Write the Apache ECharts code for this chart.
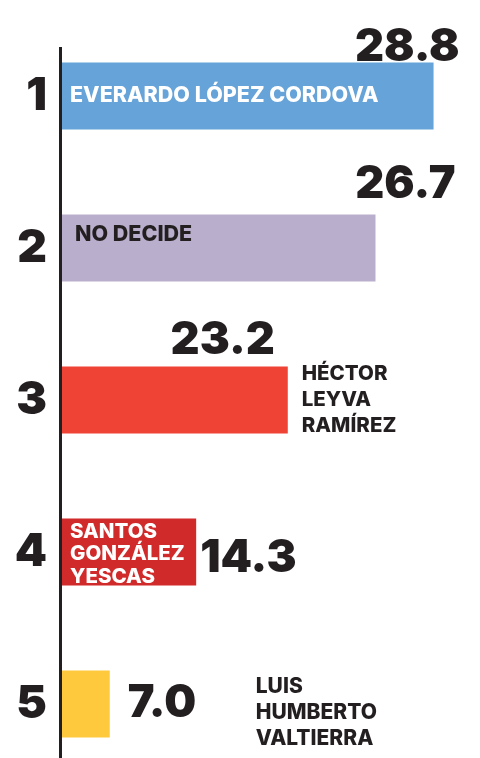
<!DOCTYPE html>
<html>
<head>
<meta charset="utf-8">
<script src="https://cdn.jsdelivr.net/npm/echarts@6/dist/echarts.min.js"></script>
<style>
  html, body { margin: 0; padding: 0; background: #fff; }
  #chart { width: 480px; height: 758px; }
</style>
</head>
<body>
<div id="chart"></div>
<script>
// data
let ranks = ['1', '2', '3', '4', '5'];
let names = ['EVERARDO LÓPEZ CORDOVA', 'NO DECIDE', 'HÉCTOR\nLEYVA\nRAMÍREZ', 'SANTOS\nGONZÁLEZ\nYESCAS', 'LUIS\nHUMBERTO\nVALTIERRA'];
let percents = [28.8, 26.7, 23.2, 14.3, 7.0];
// bar lengths as drawn in the graphic (not to scale with the percents)
let drawnLength = [28.8, 24.3, 17.5, 10.4, 3.7];
let colors = ['#66a3d8', '#b9aecb', '#ef4336', '#d12a2b', '#fec93c'];

const ink = '#231f20';
const font = 'Inter';

// name label of each bar
let nameLabels = [
    { position: [8, '50%'], align: 'left', verticalAlign: 'middle', color: '#fff', fontSize: 21.5 },
    { position: [13, 20], align: 'left', verticalAlign: 'middle', color: ink, fontSize: 21.5 },
    { position: ['100%', '50%'], offset: [14, 0], align: 'left', verticalAlign: 'middle', color: ink, fontSize: 20.5, lineHeight: 26 },
    { position: [8, '50%'], offset: [0, 2], align: 'left', verticalAlign: 'middle', color: '#fff', fontSize: 20.5, lineHeight: 22.5 },
    { position: ['100%', '50%'], offset: [146, 9], align: 'left', verticalAlign: 'middle', color: ink, fontSize: 21, lineHeight: 26 }
];
// percent label of each bar
let valueLabels = [
    { position: ['100%', 0], offset: [26, -15], align: 'right' },
    { position: ['100%', 0], offset: [80, -30], align: 'right' },
    { position: ['100%', 0], offset: [-13, -26], align: 'right' },
    { position: ['100%', '50%'], offset: [4, 6], align: 'left' },
    { position: ['100%', '50%'], offset: [18, -1], align: 'left' }
];

let myChart = echarts.init(document.getElementById('chart'));

myChart.setOption({
    animation: false,
    grid: { left: 62, right: 0, top: 20, height: 760, outerBoundsMode: 'none' },
    xAxis: { type: 'value', min: 0, max: 32.4, show: false },
    yAxis: {
        type: 'category',
        inverse: true,
        data: ranks,
        axisLine: { show: false },
        axisTick: { show: false },
        axisLabel: { margin: 15, fontFamily: font, fontWeight: 900, fontSize: 46, color: ink }
    },
    graphic: [
        { type: 'line', shape: { x1: 60.5, y1: 47, x2: 60.5, y2: 758 }, style: { stroke: ink, lineWidth: 3 }, z: 10 }
    ],
    series: [
        {
            type: 'bar',
            barWidth: 67,
            barGap: '-100%',
            data: drawnLength.map(function (v, i) {
                return {
                    value: v,
                    itemStyle: { color: colors[i] },
                    label: Object.assign({
                        show: true,
                        formatter: names[i],
                        fontFamily: font,
                        fontWeight: 800
                    }, nameLabels[i])
                };
            })
        },
        {
            type: 'bar',
            barWidth: 67,
            barGap: '-100%',
            silent: true,
            itemStyle: { color: 'transparent' },
            data: drawnLength.map(function (v, i) {
                return {
                    value: v,
                    label: Object.assign({
                        show: true,
                        formatter: percents[i].toFixed(1),
                        fontFamily: font,
                        fontWeight: 900,
                        fontSize: 45,
                        color: ink,
                        verticalAlign: 'middle'
                    }, valueLabels[i])
                };
            })
        }
    ]
});
</script>
</body>
</html>
